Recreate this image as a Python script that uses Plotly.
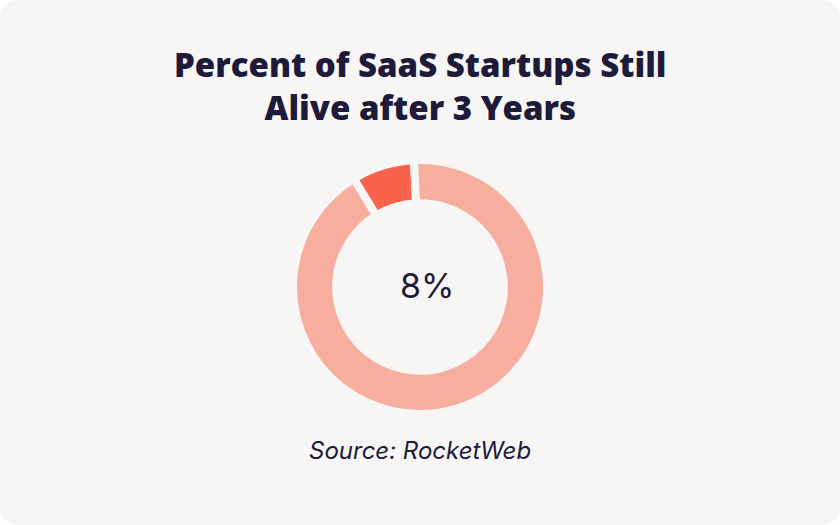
import plotly.graph_objects as go

labels = ["Still alive", "Failed"]
values = [8, 92]
colors = ["#f9634c", "#f7ae9f"]
title_text = "Percent of SaaS Startups Still<br>Alive after 3 Years"
center_text = "8%"
source_text = "Source: RocketWeb"

W, H = 840, 525
card = "#f7f6f5"
ink = "#1e1b3a"

fig = go.Figure()
fig.add_trace(go.Pie(
    labels=labels, values=values, sort=False, direction="counterclockwise", rotation=-31.5,
    hole=0.66, textinfo="none", hoverinfo="label+percent",
    marker=dict(colors=colors, line=dict(color=card, width=8)),
    domain=dict(x=[(420-127)/W, (420+127)/W], y=[1-(287+127)/H, 1-(287-127)/H]),
    showlegend=False,
))

r = 20
path = (f"M {r},0 L {W-r},0 Q {W},0 {W},{r} L {W},{H-r} Q {W},{H} {W-r},{H} "
        f"L {r},{H} Q 0,{H} 0,{H-r} L 0,{r} Q 0,0 {r},0 Z")
fig.add_shape(type="path", path=path, xref="x", yref="y", fillcolor=card, line=dict(width=0), layer="below")

fig.add_annotation(text=title_text, x=420, y=H-86, xref="x", yref="y", showarrow=False,
                   font=dict(family="Open Sans", size=33, color=ink, weight=800), align="center")
fig.add_annotation(text=center_text, x=427, y=H-285, xref="x", yref="y", showarrow=False,
                   font=dict(family="Inter", size=34, color=ink))
fig.add_annotation(text=source_text, x=420, y=H-450, xref="x", yref="y", showarrow=False,
                   font=dict(family="Inter", size=24, color=ink, style="italic"))

fig.update_xaxes(range=[0, W], visible=False, fixedrange=True)
fig.update_yaxes(range=[0, H], visible=False, fixedrange=True)
fig.update_layout(width=W, height=H, margin=dict(l=0, r=0, t=0, b=0),
                  paper_bgcolor="white", plot_bgcolor="rgba(0,0,0,0)")
fig.write_html("out.html", config={"displayModeBar": False},
               post_script="document.body.style.margin='0';document.body.style.padding='0';")
